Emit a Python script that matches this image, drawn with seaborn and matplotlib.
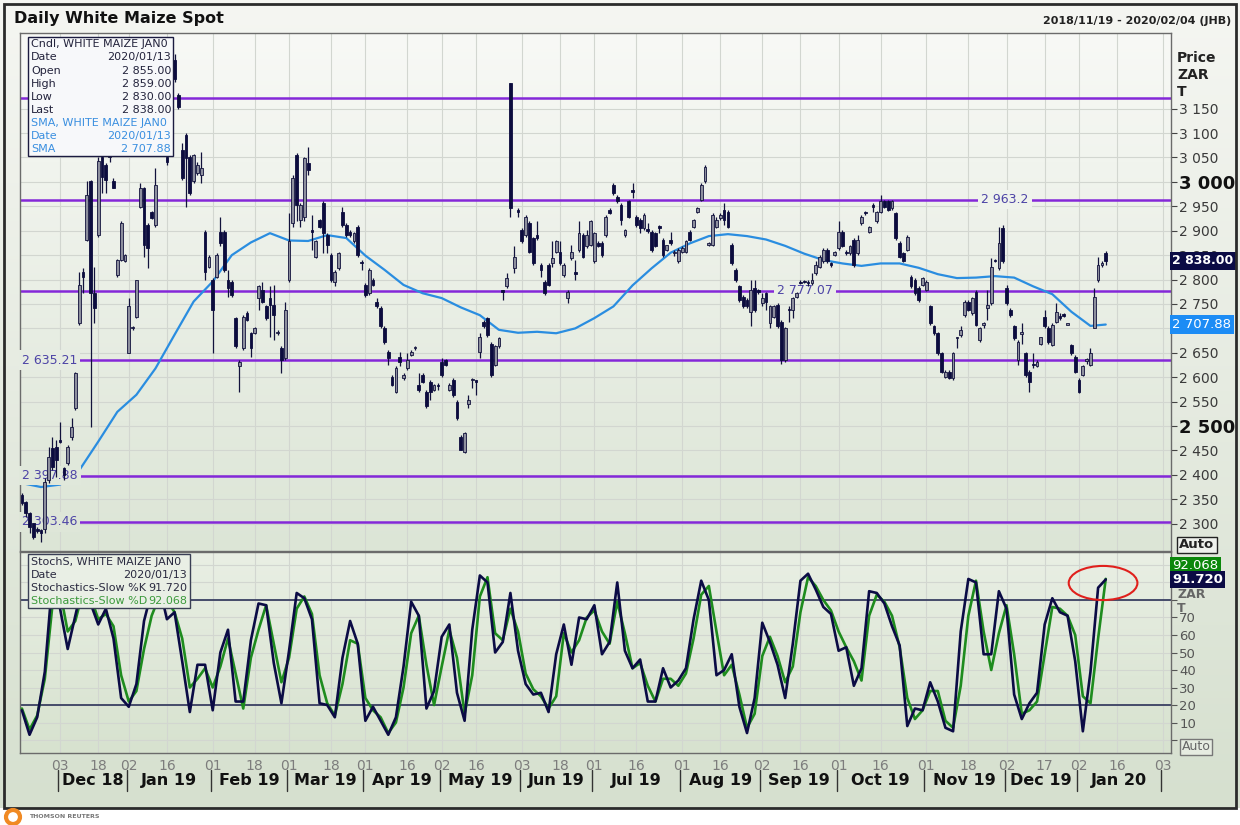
import numpy as np
import pandas as pd
import seaborn as sns
import matplotlib
matplotlib.use("Agg")
import matplotlib.pyplot as plt
from matplotlib.patches import Rectangle, Ellipse
from matplotlib.colors import LinearSegmentedColormap
from matplotlib.transforms import blended_transform_factory

# trading calendar (JSE holidays left out)
holidays = ["2018-12-17", "2018-12-25", "2018-12-26", "2019-01-01", "2019-03-21",
            "2019-04-19", "2019-04-22", "2019-05-01", "2019-05-08", "2019-06-17",
            "2019-08-09", "2019-09-24", "2019-12-16", "2019-12-25", "2019-12-26",
            "2020-01-01"]
first_day, axis_end, last_day = "2018-11-19", "2020-02-07", "2020-01-13"

# daily candles, one value per session from 2018-11-19 to 2020-01-13
opens = [
    2359, 2345, 2321, 2301, 2290, 2287, 2290, 2389, 2454, 2458,
    2471, 2413, 2424, 2478, 2536, 2710, 2816, 2881, 3001, 2772,
    2891, 3052, 3035, 3050, 3001, 2809, 2840, 2837, 2649, 2700,
    2724, 2949, 2987, 2912, 2939, 2912, None, None, 3050, None,
    3250, 3178, 3066, 3096, 3052, 3001, 3018, 3014, 2898, 2826,
    2799, 2806, 2898, 2898, 2799, 2796, 2721, 2622, 2659, 2731,
    2690, 2690, 2762, 2779, 2745, 2762, 2748, 2690, 2659, 2639,
    2799, 2915, 3055, 2922, 2929, 3038, 2900, 2847, 2922, 2956,
    2891, 2850, 2796, 2823, 2939, 2912, 2898, 2878, 2908, 2834,
    2789, 2772, 2799, 2755, 2741, 2700, 2652, 2601, 2570, 2642,
    2598, 2618, 2646, 2659, 2584, 2605, 2570, 2591, 2574, 2582,
    2632, 2635, 2574, 2594, 2550, 2478, 2447, 2546, 2594, 2592,
    2652, 2714, 2721, 2669, 2625, 2663, 2776, 2786, 3202, 2823,
    2940, 2902, 2891, 2915, 2885, 2891, 2830, 2796, 2830, 2833,
    2857, 2857, 2809, 2762, 2844, 2816, 2861, 2891, 2868, 2871,
    2837, 2874, 2874, 2891, 2943, 2994, 2970, 2953, 2891, 2960,
    2981, 2929, 2922, 2905, 2902, 2898, 2895, 2910, 2881, 2861,
    2881, 2854, 2837, 2857, 2857, 2898, 2908, 2939, 2963, 3001,
    2871, 2871, 2908, 2926, 2943, 2939, 2871, 2820, 2786, 2765,
    2758, 2734, 2782, 2776, 2751, 2772, 2710, 2724, 2748, 2714,
    2635, 2738, 2738, 2765, 2796, 2797, 2793, 2792, 2813, 2826,
    2837, 2861, 2831, 2850, 2864, 2898, 2855, 2854, 2881, 2854,
    2915, 2937, 2898, 2950, 2919, 2939, 2960, 2960, 2946, 2936,
    2874, 2854, 2861, 2806, 2799, 2782, 2789, 2779, 2745, 2704,
    2690, 2649, 2601, 2611, 2598, 2680, 2686, 2727, 2755, 2731,
    2775, 2676, 2707, 2741, 2751, 2840, 2823, 2905, 2782, 2738,
    2704, 2635, 2689, 2649, 2611, 2627, 2622, 2669, 2724, 2700,
    2666, 2714, 2726, 2730, 2707, 2666, 2642, 2594, 2605, 2634,
    2625, 2700, 2799, 2830, 2855]
highs = [
    2362, 2347, 2324, 2302, 2293, 2290, 2393, 2458, 2478, 2471,
    2509, 2417, 2461, 2516, 2611, 2816, 2823, 3001, 3004, 2826,
    3052, 3055, 3038, 3060, 3008, 2842, 2919, 2852, 2762, 2705,
    2800, 2997, 2990, 2915, 2941, 3028, None, None, 3060, None,
    3262, 3182, 3079, 3100, 3055, 3057, 3040, 3062, 2902, 2850,
    2803, 2854, 2929, 2902, 2820, 2799, 2724, 2635, 2727, 2735,
    2693, 2702, 2789, 2796, 2748, 2786, 2789, 2697, 2663, 2755,
    2936, 3014, 3059, 2956, 3052, 3072, 2932, 2881, 2925, 2960,
    2895, 2854, 2820, 2857, 2949, 2915, 2902, 2898, 2912, 2840,
    2792, 2823, 2803, 2762, 2745, 2704, 2656, 2605, 2622, 2652,
    2608, 2649, 2656, 2663, 2608, 2608, 2574, 2594, 2586, 2588,
    2639, 2637, 2588, 2598, 2553, 2481, 2488, 2564, 2598, 2594,
    2690, 2717, 2724, 2673, 2666, 2683, 2779, 2813, 3202, 2868,
    2946, 2905, 2932, 2919, 2888, 2919, 2833, 2799, 2833, 2878,
    2881, 2878, 2833, 2779, 2871, 2840, 2919, 2895, 2902, 2922,
    2898, 2878, 2878, 2932, 2946, 2997, 2973, 2956, 2903, 2963,
    2997, 2932, 2926, 2936, 2915, 2902, 2898, 2912, 2885, 2871,
    2898, 2860, 2864, 2868, 2881, 2902, 2924, 2948, 2997, 3035,
    2876, 2936, 2929, 2936, 2956, 2943, 2874, 2823, 2789, 2768,
    2762, 2799, 2799, 2780, 2772, 2775, 2748, 2748, 2751, 2717,
    2702, 2745, 2765, 2774, 2799, 2800, 2799, 2813, 2837, 2850,
    2864, 2864, 2835, 2858, 2919, 2902, 2860, 2871, 2885, 2891,
    2932, 2941, 2910, 2956, 2941, 2973, 2963, 2963, 2963, 2939,
    2878, 2857, 2891, 2809, 2803, 2786, 2806, 2799, 2748, 2707,
    2693, 2652, 2614, 2614, 2652, 2683, 2704, 2758, 2758, 2765,
    2779, 2702, 2714, 2779, 2844, 2843, 2908, 2912, 2789, 2741,
    2707, 2676, 2710, 2652, 2615, 2649, 2635, 2683, 2738, 2704,
    2710, 2751, 2731, 2732, 2707, 2669, 2646, 2598, 2625, 2639,
    2659, 2782, 2847, 2837, 2859]
lows = [
    2338, 2314, 2280, 2268, 2280, 2263, 2280, 2383, 2410, 2396,
    2466, 2389, 2420, 2471, 2533, 2707, 2772, 2878, 2499, 2710,
    2888, 2977, 2977, 3040, 2987, 2806, 2837, 2835, 2649, 2697,
    2722, 2946, 2847, 2823, 2924, 2908, None, None, 3035, None,
    3205, 3150, 3004, 2949, 2973, 2997, 3015, 2997, 2799, 2823,
    2649, 2803, 2868, 2816, 2765, 2765, 2660, 2570, 2656, 2715,
    2642, 2688, 2738, 2751, 2717, 2683, 2676, 2686, 2608, 2635,
    2796, 2908, 2919, 2908, 2919, 3014, 2861, 2844, 2906, 2854,
    2854, 2796, 2786, 2820, 2908, 2888, 2888, 2875, 2847, 2820,
    2765, 2768, 2786, 2741, 2700, 2669, 2625, 2581, 2567, 2622,
    2594, 2615, 2644, 2655, 2570, 2588, 2536, 2553, 2572, 2574,
    2601, 2622, 2572, 2560, 2512, 2451, 2444, 2536, 2577, 2564,
    2639, 2700, 2683, 2601, 2622, 2660, 2758, 2782, 2929, 2813,
    2929, 2874, 2888, 2854, 2830, 2881, 2806, 2768, 2786, 2826,
    2854, 2830, 2806, 2751, 2840, 2799, 2857, 2844, 2864, 2868,
    2833, 2866, 2847, 2888, 2934, 2973, 2956, 2912, 2888, 2926,
    2967, 2908, 2895, 2902, 2895, 2857, 2866, 2895, 2847, 2858,
    2871, 2848, 2833, 2855, 2854, 2878, 2905, 2936, 2960, 2997,
    2868, 2868, 2905, 2922, 2912, 2905, 2830, 2796, 2755, 2741,
    2742, 2704, 2734, 2770, 2745, 2738, 2700, 2721, 2700, 2628,
    2632, 2714, 2721, 2762, 2790, 2793, 2786, 2789, 2809, 2823,
    2833, 2833, 2826, 2848, 2861, 2866, 2850, 2851, 2826, 2850,
    2912, 2932, 2895, 2939, 2916, 2936, 2946, 2941, 2943, 2881,
    2844, 2835, 2858, 2782, 2768, 2755, 2786, 2776, 2707, 2687,
    2646, 2608, 2598, 2596, 2594, 2659, 2683, 2724, 2736, 2728,
    2704, 2673, 2700, 2717, 2748, 2835, 2820, 2833, 2748, 2724,
    2676, 2625, 2669, 2601, 2570, 2618, 2620, 2666, 2700, 2669,
    2663, 2710, 2717, 2724, 2707, 2646, 2608, 2567, 2602, 2628,
    2622, 2700, 2796, 2826, 2830]
closes = [
    2343, 2321, 2294, 2273, 2284, 2280, 2386, 2437, 2417, 2430,
    2468, 2400, 2458, 2499, 2608, 2789, 2806, 2973, 2772, 2741,
    3042, 3011, 3004, 3052, 2987, 2840, 2915, 2850, 2745, 2702,
    2799, 2987, 2871, 2864, 2926, 2994, None, None, 3040, None,
    3210, 3154, 3008, 3049, 2977, 3055, 3035, 3028, 2816, 2847,
    2738, 2850, 2874, 2820, 2782, 2768, 2663, 2632, 2724, 2717,
    2659, 2700, 2786, 2755, 2721, 2748, 2727, 2691, 2635, 2738,
    2878, 3008, 2953, 2953, 3049, 3025, 2898, 2878, 2908, 2895,
    2871, 2799, 2816, 2854, 2912, 2891, 2891, 2895, 2850, 2833,
    2768, 2820, 2789, 2745, 2704, 2673, 2639, 2584, 2618, 2632,
    2605, 2635, 2652, 2660, 2574, 2591, 2540, 2570, 2584, 2581,
    2605, 2625, 2584, 2564, 2516, 2451, 2485, 2553, 2595, 2591,
    2683, 2704, 2686, 2605, 2663, 2680, 2775, 2803, 2946, 2847,
    2939, 2878, 2929, 2857, 2833, 2885, 2820, 2772, 2789, 2844,
    2878, 2833, 2830, 2775, 2857, 2811, 2895, 2847, 2891, 2919,
    2895, 2868, 2850, 2929, 2936, 2977, 2960, 2922, 2902, 2929,
    2980, 2912, 2905, 2932, 2900, 2861, 2868, 2906, 2850, 2871,
    2874, 2855, 2861, 2864, 2878, 2881, 2922, 2946, 2994, 3031,
    2874, 2932, 2922, 2932, 2922, 2908, 2833, 2799, 2758, 2745,
    2745, 2779, 2738, 2775, 2762, 2755, 2745, 2745, 2704, 2635,
    2700, 2737, 2762, 2772, 2792, 2794, 2792, 2799, 2830, 2847,
    2861, 2837, 2830, 2857, 2898, 2868, 2854, 2868, 2830, 2881,
    2929, 2936, 2908, 2949, 2939, 2960, 2949, 2943, 2960, 2885,
    2847, 2837, 2888, 2786, 2772, 2758, 2803, 2796, 2710, 2690,
    2649, 2611, 2611, 2598, 2649, 2681, 2697, 2755, 2738, 2762,
    2707, 2700, 2708, 2748, 2826, 2837, 2874, 2837, 2751, 2727,
    2680, 2673, 2690, 2605, 2591, 2624, 2632, 2683, 2704, 2673,
    2707, 2734, 2722, 2726, 2707, 2649, 2611, 2570, 2622, 2636,
    2649, 2765, 2830, 2833, 2838]

# simple moving average, read every 5th session plus the last one
sma_values = [2383, 2375, 2380, 2409, 2468, 2529, 2564, 2618, 2687, 2755,
              2796, 2850, 2876, 2895, 2880, 2879, 2891, 2885, 2849, 2820,
              2789, 2772, 2762, 2743, 2727, 2697, 2691, 2693, 2690, 2700,
              2721, 2745, 2788, 2823, 2855, 2874, 2889, 2893, 2889, 2882,
              2869, 2853, 2840, 2833, 2828, 2833, 2833, 2824, 2811, 2803,
              2804, 2807, 2804, 2786, 2770, 2734, 2705, 2707.88]

# slow stochastics, read every 2nd session
pct_k = [17, 3, 13, 39, 92, 75, 52, 71, 90, 78,
         66, 75, 58, 24, 19, 32, 68, 85, 88, 69,
         73, 45, 16, 43, 43, 17, 50, 63, 22, 22,
         57, 78, 77, 44, 21, 51, 84, 81, 69, 21,
         20, 13, 47, 68, 55, 11, 19, 11, 3, 13,
         42, 79, 71, 18, 28, 59, 66, 27, 11, 63,
         94, 90, 50, 56, 84, 51, 32, 26, 27, 16,
         49, 66, 43, 70, 69, 77, 49, 56, 90, 51,
         41, 46, 22, 22, 41, 30, 34, 41, 69, 91,
         80, 37, 40, 49, 19, 4, 24, 67, 56, 43,
         24, 55, 91, 95, 86, 76, 72, 51, 53, 31,
         41, 85, 84, 78, 65, 54, 8, 18, 17, 33,
         22, 7, 5, 62, 92, 90, 49, 49, 85, 75,
         26, 12, 21, 27, 66, 81, 73, 71, 45, 5,
         39, 87, 91.72]
pct_d = [18, 6, 14, 35, 77, 85, 62, 68, 85, 82,
         69, 72, 65, 37, 22, 28, 52, 71, 82, 80,
         73, 58, 30, 35, 41, 30, 42, 58, 38, 18,
         47, 63, 77, 55, 33, 47, 75, 82, 72, 37,
         21, 14, 32, 57, 55, 24, 17, 13, 4, 10,
         30, 61, 71, 43, 20, 42, 63, 47, 15, 37,
         82, 93, 61, 57, 75, 62, 38, 29, 25, 18,
         25, 61, 50, 57, 70, 74, 62, 55, 79, 61,
         41, 44, 31, 22, 35, 35, 31, 38, 58, 83,
         88, 62, 37, 43, 26, 7, 15, 48, 59, 48,
         33, 42, 73, 93, 88, 80, 74, 62, 53, 45,
         34, 71, 83, 79, 71, 53, 24, 12, 17, 28,
         28, 11, 7, 31, 71, 91, 62, 40, 61, 77,
         49, 15, 17, 22, 49, 76, 75, 71, 60, 25,
         21, 58, 92.068]

levels = [3172, 2963.2, 2777.07, 2635.21, 2397.88, 2303.46]
tick_dates = ["2018-12-03", "2018-12-18", "2019-01-02", "2019-01-16", "2019-02-01",
              "2019-02-18", "2019-03-01", "2019-03-18", "2019-04-01", "2019-04-16",
              "2019-05-02", "2019-05-16", "2019-06-03", "2019-06-18", "2019-07-01",
              "2019-07-16", "2019-08-01", "2019-08-16", "2019-09-02", "2019-09-16",
              "2019-10-01", "2019-10-16", "2019-11-01", "2019-11-18", "2019-12-02",
              "2019-12-17", "2020-01-02", "2020-01-16", "2020-02-03"]
month_starts = pd.date_range("2018-12-01", "2020-02-01", freq="MS")

sessions = pd.bdate_range(first_day, axis_end, freq="C", holidays=holidays)
n = len(opens)
assert sessions[n - 1] == pd.Timestamp(last_day)

o = np.array(opens, dtype=float)
h = np.array(highs, dtype=float)
l = np.array(lows, dtype=float)
c = np.array(closes, dtype=float)
pos = np.arange(n)

sma_dates = list(sessions[0:281:5]) + [pd.Timestamp(last_day)]
sma_pos = sessions.get_indexer(sma_dates)
stoch_pos = sessions.get_indexer(sessions[0:n:2])

sns.set_style("white")
plt.rcParams["font.family"] = ["DejaVu Sans"]

W, H = 1240, 825
fig = plt.figure(figsize=(12.4, 8.25), dpi=100)
fig.patch.set_facecolor("white")


def fx(px):
    return px / W


def fy(py):
    return 1 - py / H


grad = np.linspace(0, 1, 256).reshape(-1, 1)

# figure background + frame
bg = fig.add_axes([0, 0, 1, 1], zorder=-10)
bg.axis("off")
bg.imshow(grad, extent=[0, 1, fy(808), 1], aspect="auto", origin="lower",
          cmap=LinearSegmentedColormap.from_list("f", ["#d6e0cf", "#f5f6f2"]))
bg.set_xlim(0, 1)
bg.set_ylim(0, 1)
fig.add_artist(Rectangle((fx(4), fy(808)), 1232 / W, 804 / H, fill=False,
                         edgecolor="#2b2b2b", lw=2, transform=fig.transFigure))

XLIM = (-0.5, 301.1)
YLIM = (2244, 3305)
SLIM = (-7.4, 107.4)

ax = fig.add_axes([fx(20), fy(551), 1151 / W, 518 / H])
ax2 = fig.add_axes([fx(20), fy(753), 1151 / W, 201 / H])

main_cmap = LinearSegmentedColormap.from_list("m", ["#dce5d6", "#f8f9f6"])
stoch_cmap = LinearSegmentedColormap.from_list("s", ["#d7e2cf", "#e9efe4"])
ax.imshow(grad, extent=[*XLIM, *YLIM], aspect="auto", origin="lower", cmap=main_cmap, zorder=0)
ax2.imshow(grad, extent=[*XLIM, *SLIM], aspect="auto", origin="lower", cmap=stoch_cmap, zorder=0)

tick_pos = sessions.searchsorted(pd.to_datetime(tick_dates))
tick_lab = [d[-2:] for d in tick_dates]

for a in (ax, ax2):
    a.set_axisbelow(True)
    a.set_xlim(*XLIM)
    a.set_xticks(tick_pos)
    a.grid(True, color="#d2d6d0", lw=0.8)
    for s in a.spines.values():
        s.set_color("#6b6b6b")
        s.set_linewidth(1)

# ---- price panel ----
ax.set_ylim(*YLIM)
ax.set_xticklabels([])
ax.tick_params(axis="x", length=0)
ax.yaxis.tick_right()
yt = list(range(2300, 3151, 50))
ax.set_yticks(yt)
ax.set_yticklabels([f"{v:,}".replace(",", " ") for v in yt])
ax.tick_params(axis="y", direction="out", length=4, color="#444", labelsize=10,
               labelcolor="#3a3a3a", pad=2)
for t, v in zip(ax.get_yticklabels(), yt):
    if v in (2500, 3000):
        t.set_fontweight("bold")
        t.set_fontsize(13)
        t.set_color("#111")

for lv in levels:
    ax.axhline(lv, color="#8428d8", lw=1.8, zorder=2)


def bgc(v):
    return main_cmap((v - YLIM[0]) / (YLIM[1] - YLIM[0]))


lab_kw = dict(color="#4d44a6", fontsize=9, va="center", zorder=3.5)
ax.text(257.6, 2963.2, "2 963.2", ha="center",
        bbox=dict(boxstyle="square,pad=0.25", fc=bgc(2963), ec="none"), **lab_kw)
ax.text(205.2, 2777.07, "2 777.07", ha="center",
        bbox=dict(boxstyle="square,pad=0.25", fc=bgc(2777), ec="none"), **lab_kw)
for lv, txt in [(2635.21, "2 635.21"), (2397.88, "2 397.88"), (2303.46, "2 303.46")]:
    ax.text(0.0, lv, txt, ha="left",
            bbox=dict(boxstyle="square,pad=0.25", fc=bgc(lv), ec="none"), **lab_kw)

sns.lineplot(x=sma_pos, y=sma_values, ax=ax, color="#2a8de0", lw=1.6, zorder=3, legend=False)
ax.set_xlabel("")
ax.set_ylabel("")

ok = ~np.isnan(o)
up = ok & (c >= o)
dn = ok & (c < o)
ax.vlines(pos[ok], l[ok], h[ok], color="#12123c", lw=0.9, zorder=4)
body = np.maximum(np.abs(c - o), 3)
ax.bar(pos[up], body[up], bottom=o[up], width=0.72, color="#8d8f9e",
       edgecolor="#12123c", lw=0.6, zorder=5)
ax.bar(pos[dn], body[dn], bottom=c[dn], width=0.72, color="#0c0c3e",
       edgecolor="#0c0c3e", lw=0.6, zorder=5)

# value tags on the right axis (they sit over the tick labels, as in the terminal)
tr = blended_transform_factory(ax.transAxes, ax.transData)
ax.text(1.001, closes[-1], f"{closes[-1]:,.2f}".replace(",", " "), transform=tr,
        ha="left", va="center", color="white", fontweight="bold", fontsize=9,
        bbox=dict(boxstyle="square,pad=0.2", fc="#0b0b45", ec="none"), clip_on=False, zorder=20)
ax.text(1.001, sma_values[-1], f"{sma_values[-1]:,.2f}".replace(",", " "), transform=tr,
        ha="left", va="center", color="white", fontsize=9.5,
        bbox=dict(boxstyle="square,pad=0.2", fc="#1c8cf5", ec="none"), clip_on=False, zorder=20)

# ---- stochastics panel ----
ax2.set_ylim(*SLIM)
ax2.axhline(80, color="#3a4062", lw=1.3, zorder=2)
ax2.axhline(20, color="#3a4062", lw=1.3, zorder=2)
sns.lineplot(x=stoch_pos, y=pct_k, ax=ax2, color="#0b0b45", lw=1.9, zorder=4, legend=False)
sns.lineplot(x=stoch_pos, y=pct_d, ax=ax2, color="#1e8c1e", lw=1.9, zorder=3, legend=False)
ax2.set_xlabel("")
ax2.set_ylabel("")
ax2.yaxis.tick_right()
st = [0, 10, 20, 30, 40, 50, 60, 70, 80, 90, 100]
ax2.set_yticks(st)
ax2.set_yticklabels([str(v) if 10 <= v <= 70 else "" for v in st])
ax2.tick_params(axis="y", direction="out", length=4, color="#555", labelsize=9.5,
                labelcolor="#555", pad=2)
ax2.set_xticklabels(tick_lab)
ax2.tick_params(axis="x", length=0, labelsize=10, labelcolor="#7c7c7c", pad=4)

ax2.add_patch(Ellipse((283.3, 89.7), 18, 19.5, fill=False, edgecolor="#e0201c",
                      lw=1.5, clip_on=False, zorder=10))

tr2 = blended_transform_factory(ax2.transAxes, ax2.transData)
ax2.text(1.001, 99.5, f"{pct_d[-1]:.3f}", transform=tr2, ha="left", va="center",
         color="white", fontsize=9.5,
         bbox=dict(boxstyle="square,pad=0.18", fc="#0b870b", ec="none"), clip_on=False)
ax2.text(1.001, pct_k[-1], f"{pct_k[-1]:.3f}", transform=tr2, ha="left", va="center",
         color="white", fontsize=9.5, fontweight="bold",
         bbox=dict(boxstyle="square,pad=0.18", fc="#0b0b45", ec="none"), clip_on=False)

# month labels with separators
trx = blended_transform_factory(ax2.transData, ax2.transAxes)
ms = sessions.searchsorted(month_starts)
for i, m in enumerate(month_starts[:-1]):
    ax2.text((ms[i] + ms[i + 1]) / 2 - 0.5, -0.135, m.strftime("%b %y"), transform=trx,
             ha="center", va="center", fontsize=11.5, fontweight="bold", color="#111")
for p in ms:
    ax2.plot([p - 0.5, p - 0.5], [-0.085, -0.19], transform=trx, color="#333",
             lw=1, clip_on=False)

# ---- overlays in pixel positions ----
fig.text(fx(14), fy(19), "Daily White Maize Spot", fontsize=11.5, fontweight="bold",
         color="#111", va="center")
fig.text(fx(1231), fy(21), "2018/11/19 - 2020/02/04 (JHB)", fontsize=8, fontweight="bold",
         color="#222", va="center", ha="right")
for y, t in [(58, "Price"), (75, "ZAR"), (92, "T")]:
    fig.text(fx(1177), fy(y), t, fontsize=10, fontweight="bold", color="#222", va="center")
for y, t in [(594, "ZAR"), (608, "T")]:
    fig.text(fx(1177), fy(y), t, fontsize=9, fontweight="bold", color="#666", va="center")

fig.text(fx(1197), fy(545), "Auto", ha="center", va="center", fontsize=9.5, fontweight="bold",
         color="#222", bbox=dict(boxstyle="square,pad=0.15", fc="#eef1ec", ec="#222", lw=1))
fig.text(fx(1196), fy(747), "Auto", ha="center", va="center", fontsize=9, color="#666",
         bbox=dict(boxstyle="square,pad=0.15", fc="#e6ece1", ec="#777", lw=1))

# candle info box
fig.add_artist(Rectangle((fx(28), fy(156)), 145 / W, 119 / H, facecolor="#f7f8fa",
                         edgecolor="#1b1b40", lw=1, transform=fig.transFigure, zorder=30))
info = [("Cndl, WHITE MAIZE JAN0", "", "#23233c"),
        ("Date", "2020/01/13", "#23233c"),
        ("Open", "2 855.00", "#23233c"),
        ("High", "2 859.00", "#23233c"),
        ("Low", "2 830.00", "#23233c"),
        ("Last", "2 838.00", "#23233c"),
        ("SMA, WHITE MAIZE JAN0", "", "#3a8fe0"),
        ("Date", "2020/01/13", "#3a8fe0"),
        ("SMA", "2 707.88", "#3a8fe0")]
for i, (k, v, col) in enumerate(info):
    yy = fy(44.3 + 13.1 * i)
    fig.text(fx(31), yy, k, fontsize=8, color=col, va="center", zorder=31)
    if v:
        fig.text(fx(171), yy, v, fontsize=8, color=col, va="center", ha="right", zorder=31)

# stochastics info box
fig.add_artist(Rectangle((fx(28), fy(608)), 162 / W, 54 / H, facecolor="#e9efe5",
                         edgecolor="#3a3f55", lw=1, transform=fig.transFigure, zorder=30))
sinfo = [("StochS, WHITE MAIZE JAN0", "", "#2a2a40"),
         ("Date", "2020/01/13", "#2a2a40"),
         ("Stochastics-Slow %K", f"{pct_k[-1]:.3f}", "#2a2a40"),
         ("Stochastics-Slow %D", f"{pct_d[-1]:.3f}", "#3c9a3c")]
for i, (k, v, col) in enumerate(sinfo):
    yy = fy(561.7 + 13.1 * i)
    fig.text(fx(31), yy, k, fontsize=8, color=col, va="center", zorder=31)
    if v:
        fig.text(fx(187), yy, v, fontsize=8, color=col, va="center", ha="right", zorder=31)

# logo
fig.add_artist(Ellipse((fx(13), fy(817)), 14 / W, 14 / H, facecolor="none",
                       edgecolor="#f08a24", lw=3, transform=fig.transFigure))
fig.text(fx(29), fy(817), "THOMSON REUTERS", fontsize=4.5, fontweight="bold",
         color="#777", va="center")

fig.savefig("out.png", dpi=100)
